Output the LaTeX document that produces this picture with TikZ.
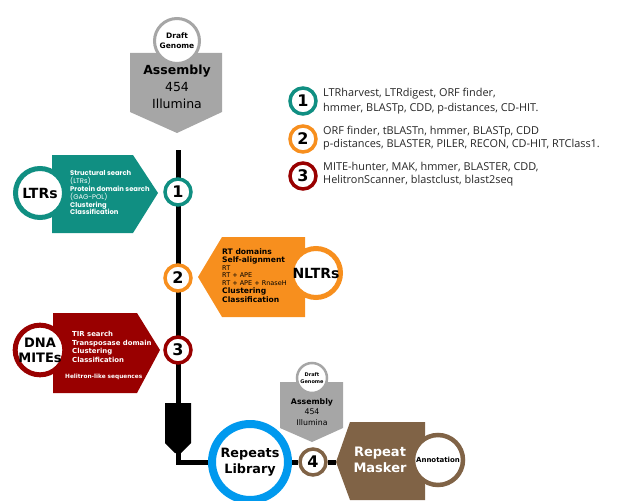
\documentclass[tikz,border=0pt]{standalone}
\usepackage{fontspec}
\setmainfont{DejaVu Sans}
\newfontfamily\legfont{Open Sans}
\newfontfamily\popfont{Poppins}
\definecolor{tealc}{RGB}{16,143,130}
\definecolor{orangec}{RGB}{247,143,30}
\definecolor{redc}{RGB}{153,0,0}
\definecolor{grayc}{RGB}{166,166,166}
\definecolor{bluec}{RGB}{0,153,238}
\definecolor{brownc}{RGB}{128,99,70}
\begin{document}
\begin{tikzpicture}[x=1pt,y=-1pt,
  numc/.style={circle, fill=white, line width=3.5pt, minimum size=26pt, inner sep=0pt, font=\fontsize{16}{16}\selectfont\bfseries},
  bigc/.style={circle, fill=white, line width=5pt, minimum size=49pt, inner sep=0pt, align=center, font=\fontsize{14}{15}\selectfont\bfseries},
  small/.style={anchor=west, align=left, inner sep=0pt},
  legtext/.style={anchor=west, align=left, inner sep=0pt, text=black!85, font=\legfont\fontsize{10.9}{14.5}\selectfont},
  wire/.style={line width=5pt}
  ]
\useasboundingbox (0,0) rectangle (644,500);
% ---- top draft genome
\fill[grayc] (130,53) -- (222,53) -- (222,112) -- (177,133) -- (130,112) -- cycle;
\node[circle, fill=white, draw=grayc, line width=3pt, minimum size=45pt, inner sep=0pt, align=center, font=\fontsize{7.5}{10}\selectfont\bfseries] (dg) at (177,41) {Draft\\Genome};
\node[align=center, inner sep=0pt, font=\fontsize{12.5}{17}\selectfont] (asm) at (177,87) {\textbf{Assembly}\\454\\Illumina};
% ---- main line
\coordinate (ltop) at (178,150);
\coordinate (ftop) at (178,405);
\coordinate (fbot) at (178,450);
\draw[wire] (ltop) -- (ftop);
\fill (165,403) -- (191,403) -- (191,443) -- (181,453) -- (175,453) -- (165,443) -- cycle;
% ---- LTRs
\fill[tealc] (52,155) -- (133,155) -- (158,193) -- (133,233) -- (52,233) -- cycle;
\node[bigc, draw=tealc] (ltr) at (40,193) {LTRs};
\node[small, text=white, font=\popfont\fontsize{6.8}{7.8}\selectfont] (ltrt) at (70,193) {\textbf{Structural search}\\(LTRs)\\\textbf{Protein domain search}\\(GAG-POL)\\\textbf{Clustering}\\\textbf{Classification}};
% ---- NLTRs
\fill[orangec] (198,277) -- (222,237) -- (305,237) -- (305,317) -- (222,317) -- cycle;
\node[bigc, draw=orangec] (nltr) at (316,273) {NLTRs};
\node[small, text=black, font=\fontsize{7.6}{9}\selectfont] (nltrt) at (222,276) {\textbf{RT domains}\\[-1pt]\textbf{Self-alignment}\\[-1.5pt]{\fontsize{6.5}{8.5}\selectfont RT}\\[-1.5pt]{\fontsize{6.5}{8.5}\selectfont RT + APE}\\[-1.5pt]{\fontsize{6.5}{8.5}\selectfont RT + APE + RnaseH}\\[-0.5pt]\textbf{Clustering}\\\textbf{Classification}};
% ---- DNA MITEs
\fill[redc] (53,313) -- (137,313) -- (160,350) -- (137,393) -- (53,393) -- cycle;
\node[bigc, draw=redc, font=\fontsize{13}{15}\selectfont\bfseries] (dna) at (40,350) {DNA\\MITEs};
\node[small, text=white, font=\fontsize{6.9}{8.8}\selectfont\bfseries] (dnat) at (72,347) {TIR search\\Transposase domain\\Clustering\\Classification};
\node[small, text=white, font=\fontsize{5.8}{7}\selectfont\bfseries] (helt) at (65,377) {Helitron-like sequences};
% ---- number circles on main line
\node[numc, draw=tealc] (n1) at (178,192) {1};
\node[numc, draw=orangec] (n2) at (178,278) {2};
\node[numc, draw=redc] (n3) at (178,350) {3};
% ---- bottom
\node[circle, fill=white, draw=bluec, line width=8pt, minimum size=76pt, inner sep=0pt, align=center, font=\fontsize{12.8}{16}\selectfont\bfseries] (lib) at (250,462) {Repeats\\Library};
\draw[wire] (fbot) |- (lib.west);
\node[numc, draw=brownc] (n4) at (313,462) {4};
\coordinate (rmtip) at (336,462);
\draw[wire] (lib.east) -- (n4.west);
\draw[wire] (n4.east) -- (rmtip);
% small draft genome
\fill[grayc] (280,382) -- (343,382) -- (343,428) -- (312,442) -- (280,428) -- cycle;
\node[circle, fill=white, draw=grayc, line width=2.5pt, minimum size=30pt, inner sep=0pt, align=center, font=\fontsize{5}{6.5}\selectfont\bfseries] (dg2) at (312,378) {Draft\\Genome};
\node[align=center, inner sep=0pt, font=\fontsize{7.8}{10.5}\selectfont] (asm2) at (312,412) {\textbf{Assembly}\\454\\Illumina};
% repeat masker
\fill[brownc] (rmtip) -- (350,422) -- (425,422) -- (425,500) -- (350,500) -- cycle;
\node[circle, fill=white, draw=brownc, line width=4.5pt, minimum size=50pt, inner sep=0pt, font=\fontsize{7}{8}\selectfont\bfseries] (ann) at (438,460) {Annotation};
\node[align=center, inner sep=0pt, text=white, font=\fontsize{13}{16}\selectfont\bfseries] (rm) at (380,460) {Repeat\\Masker};
% ---- legend
\node[numc, draw=tealc] (l1) at (303,101) {1};
\node[legtext] (lt1) at (323,101) {LTRharvest, LTRdigest, ORF finder,\\hmmer, BLASTp, CDD, p-distances, CD-HIT.};
\node[numc, draw=orangec] (l2) at (303,139) {2};
\node[legtext, font=\legfont\fontsize{10.9}{13.5}\selectfont] (lt2) at (323,138) {ORF finder, tBLASTn, hmmer, BLASTp, CDD\\p-distances, BLASTER, PILER, RECON, CD-HIT, RTClass1.};
\node[numc, draw=redc] (l3) at (303,176) {3};
\node[legtext, font=\legfont\fontsize{10.9}{13.5}\selectfont] (lt3) at (323,174) {MITE-hunter, MAK, hmmer, BLASTER, CDD,\\HelitronScanner, blastclust, blast2seq};
\end{tikzpicture}
\end{document}
